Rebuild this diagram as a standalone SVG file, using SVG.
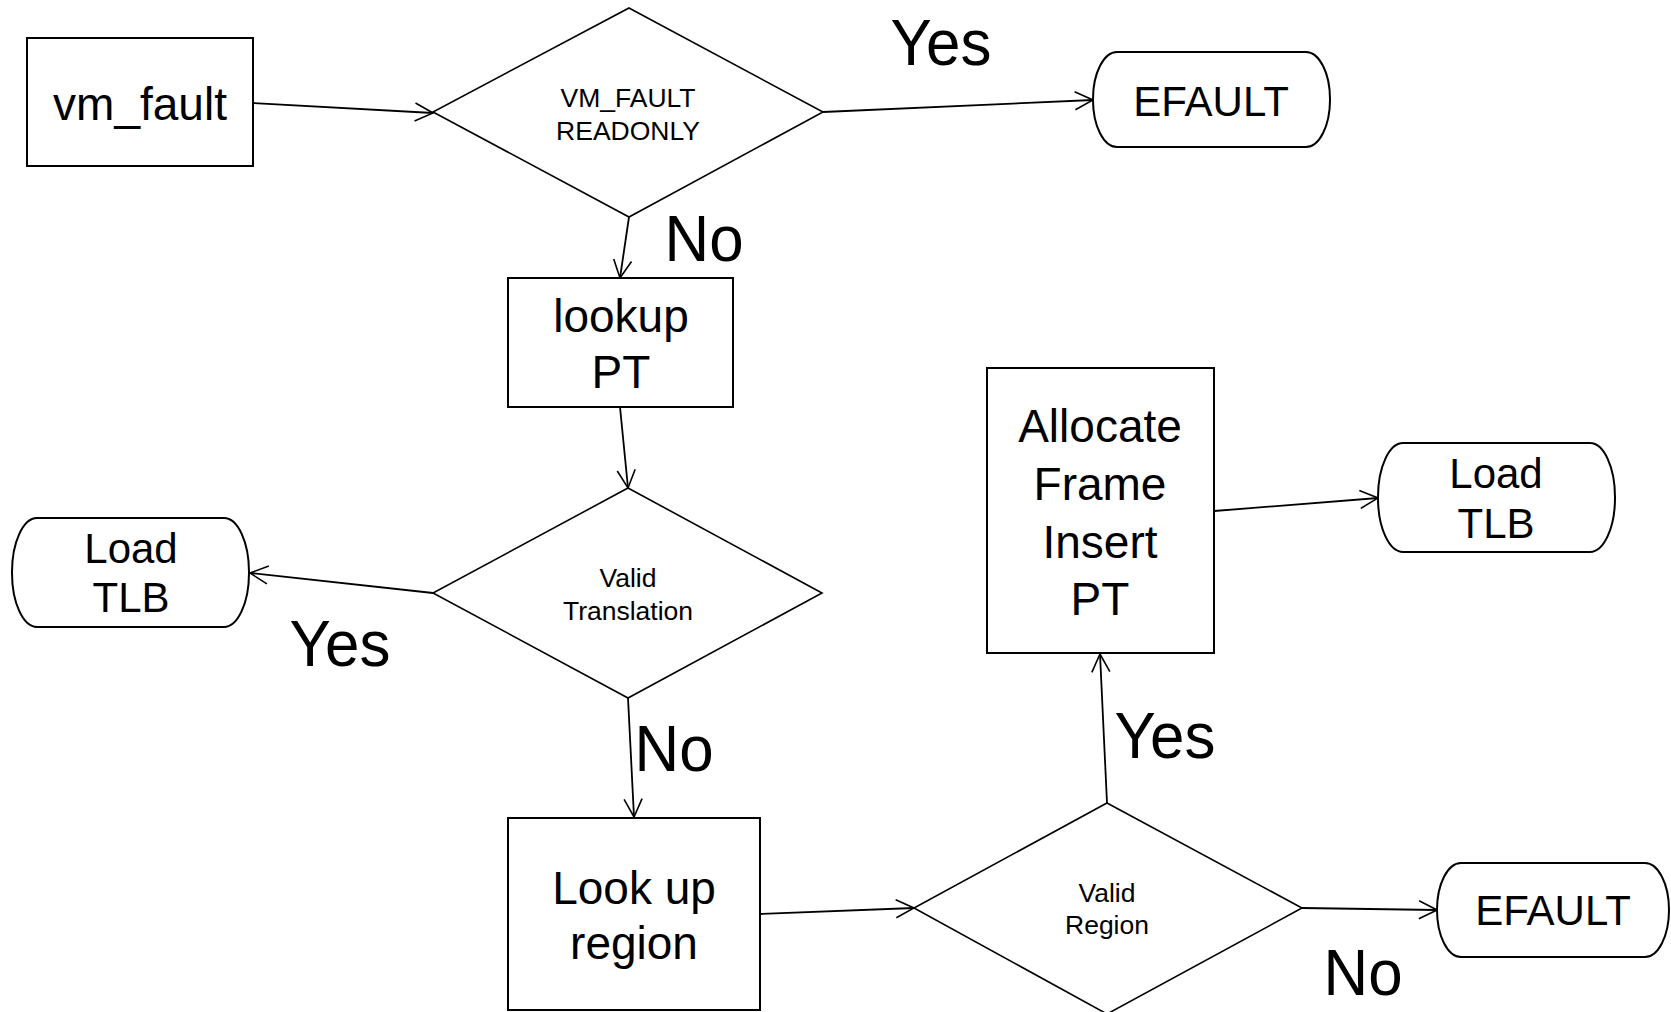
<svg xmlns="http://www.w3.org/2000/svg" width="1671" height="1012" viewBox="0 0 1671 1012">
<style>
.box{fill:#fff;stroke:#000;stroke-width:2}
.dia{fill:#fff;stroke:#000;stroke-width:1.6}
.ln{fill:none;stroke:#000;stroke-width:1.8}
text{font-family:"Liberation Sans",Arial,sans-serif;fill:#000;text-anchor:middle}
.big{font-size:46px}
.term{font-size:42px}
.small{font-size:26.5px}
.lbl{font-size:65px}
</style>
<defs>
<marker id="ah" viewBox="0 0 20 20" refX="19" refY="10" markerWidth="20" markerHeight="20" markerUnits="userSpaceOnUse" orient="auto">
<path d="M1,1 L19,10 L1,19" fill="none" stroke="#000" stroke-width="1.6"/>
</marker>
</defs>
<g id="connectors">
<line class="ln" x1="253" y1="103" x2="433" y2="113" marker-end="url(#ah)"/>
<line class="ln" x1="823" y1="112" x2="1093" y2="100" marker-end="url(#ah)"/>
<line class="ln" x1="629" y1="217" x2="620" y2="278" marker-end="url(#ah)"/>
<line class="ln" x1="620" y1="407" x2="628" y2="488" marker-end="url(#ah)"/>
<line class="ln" x1="433" y1="593" x2="250" y2="573" marker-end="url(#ah)"/>
<line class="ln" x1="628" y1="698" x2="634" y2="817" marker-end="url(#ah)"/>
<line class="ln" x1="760" y1="914" x2="914" y2="908" marker-end="url(#ah)"/>
<line class="ln" x1="1302" y1="908" x2="1437" y2="910" marker-end="url(#ah)"/>
<line class="ln" x1="1107" y1="803" x2="1100" y2="654" marker-end="url(#ah)"/>
<line class="ln" x1="1214" y1="511" x2="1378" y2="498" marker-end="url(#ah)"/>
</g>
<g id="vm_fault">
<rect class="box" x="27" y="38" width="226" height="128"/>
<text class="big" x="140" y="120">vm_fault</text>
</g>
<g id="readonly">
<polygon class="dia" points="629,8 823,112 629,217 433,112"/>
<text class="small" x="628" y="107">VM_FAULT</text>
<text class="small" x="628" y="140">READONLY</text>
</g>
<g id="efault1">
<rect class="box" x="1093" y="52" width="237" height="95" rx="24" ry="47"/>
<text class="term" x="1211" y="116">EFAULT</text>
</g>
<g id="lookup_pt">
<rect class="box" x="508" y="278" width="225" height="129"/>
<text class="big" x="621" y="332">lookup</text>
<text class="big" x="621" y="388">PT</text>
</g>
<g id="valid_translation">
<polygon class="dia" points="628,488 822,593 628,698 433,593"/>
<text class="small" x="628" y="587">Valid</text>
<text class="small" x="628" y="620">Translation</text>
</g>
<g id="load_tlb1">
<rect class="box" x="12" y="518" width="237" height="109" rx="25" ry="54"/>
<text class="term" x="131" y="563">Load</text>
<text class="term" x="131" y="612">TLB</text>
</g>
<g id="lookup_region">
<rect class="box" x="508" y="818" width="252" height="192"/>
<text class="big" x="634" y="904">Look up</text>
<text class="big" x="634" y="959">region</text>
</g>
<g id="valid_region">
<polygon class="dia" points="1107,803 1302,908 1107,1014 914,908"/>
<text class="small" x="1107" y="902">Valid</text>
<text class="small" x="1107" y="934">Region</text>
</g>
<g id="efault2">
<rect class="box" x="1437" y="863" width="232" height="94" rx="24" ry="47"/>
<text class="term" x="1553" y="925">EFAULT</text>
</g>
<g id="allocate">
<rect class="box" x="987" y="368" width="227" height="285"/>
<text class="big" x="1100" y="442">Allocate</text>
<text class="big" x="1100" y="500">Frame</text>
<text class="big" x="1100" y="558">Insert</text>
<text class="big" x="1100" y="615">PT</text>
</g>
<g id="load_tlb2">
<rect class="box" x="1378" y="443" width="237" height="109" rx="25" ry="54"/>
<text class="term" x="1496" y="488">Load</text>
<text class="term" x="1496" y="538">TLB</text>
</g>
<g id="labels">
<text class="lbl" x="941" y="65" textLength="101" lengthAdjust="spacingAndGlyphs">Yes</text>
<text class="lbl" x="704" y="261" textLength="79" lengthAdjust="spacingAndGlyphs">No</text>
<text class="lbl" x="340" y="666" textLength="101" lengthAdjust="spacingAndGlyphs">Yes</text>
<text class="lbl" x="674" y="771" textLength="79" lengthAdjust="spacingAndGlyphs">No</text>
<text class="lbl" x="1165" y="758" textLength="101" lengthAdjust="spacingAndGlyphs">Yes</text>
<text class="lbl" x="1363" y="995" textLength="79" lengthAdjust="spacingAndGlyphs">No</text>
</g>
</svg>
